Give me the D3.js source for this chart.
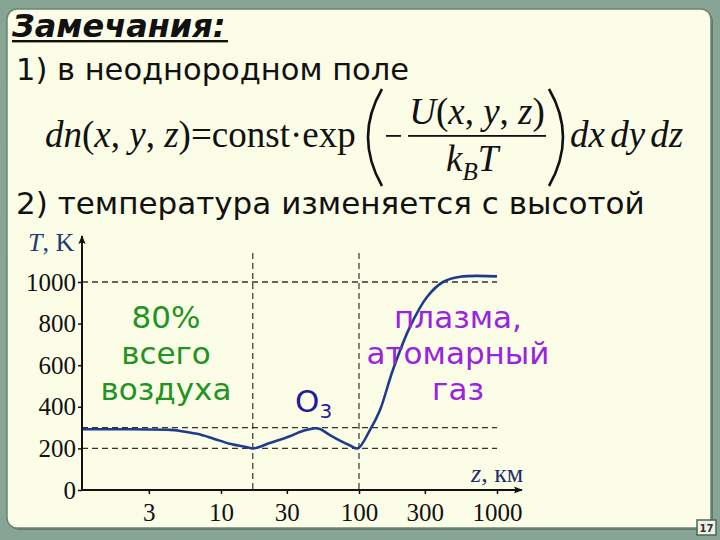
<!DOCTYPE html>
<html>
<head>
<meta charset="utf-8">
<script src="https://cdn.jsdelivr.net/npm/d3@7/dist/d3.min.js"></script>
<style>
  html, body { margin: 0; padding: 0; background: #87a594; }
  svg { display: block; }
</style>
</head>
<body>
<svg id="chart" width="720" height="540"></svg>
<script>
// ---- data ----
const altitudeKm = [1, 1.85, 4.27, 5.05, 6.7, 8.75, 11.6, 15.4, 17.1, 22.6, 31.6, 37.2, 44.5, 48, 52.2, 61.6, 72.8, 86.1, 98, 120, 142, 176, 234, 311, 406, 540, 1000];
const temperatureK = [292, 292, 289, 284, 270, 248, 222, 206, 200, 226, 258, 279, 293, 297, 293, 264, 237, 214, 200, 288, 385, 577, 784, 928, 1000, 1025, 1027];
const xTickValues = [3, 10, 30, 100, 300, 1000];
const yTickValues = [0, 200, 400, 600, 800, 1000];
const refTemps = [1000, 300, 200];
const refAltitudes = [17, 100];
const greenLabel = ["80%", "всего", "воздуха"];
const purpleLabel = ["плазма,", "атомарный", "газ"];

const svg = d3.select("#chart");

// ---- slide background ----
svg.append("rect").attr("x", 0).attr("y", 0).attr("width", 720).attr("height", 540).attr("fill", "#87a594");
svg.append("rect").attr("x", 9).attr("y", 11).attr("width", 704).attr("height", 519).attr("rx", 10)
  .attr("fill", "#5f7a6a");
svg.append("rect").attr("x", 7).attr("y", 9).attr("width", 704).attr("height", 519).attr("rx", 10)
  .attr("fill", "#fcfde6").attr("stroke", "#6b8576").attr("stroke-width", 1.5);
svg.append("rect").attr("x", 697).attr("y", 520).attr("width", 19).attr("height", 15)
  .attr("fill", "#eef2e4").attr("stroke", "#4f6658").attr("stroke-width", 1.5);
svg.append("text").attr("x", 706.5).attr("y", 532).attr("text-anchor", "middle")
  .attr("font-family", "DejaVu Sans").attr("font-size", 10).attr("font-weight", "bold")
  .attr("fill", "#333").text("17");

// ---- heading texts ----
const sans = "DejaVu Sans";
svg.append("text").attr("x", 12).attr("y", 37)
  .attr("font-family", sans).attr("font-size", 32).attr("font-weight", "bold").attr("font-style", "italic")
  .attr("fill", "#111").text("Замечания:");
svg.append("rect").attr("x", 12).attr("y", 40).attr("width", 216).attr("height", 2.4).attr("fill", "#111");

svg.append("text").attr("x", 16).attr("y", 80)
  .attr("font-family", sans).attr("font-size", 30.5).attr("fill", "#111").text("1) в неоднородном поле");
svg.append("text").attr("x", 16).attr("y", 214)
  .attr("font-family", sans).attr("font-size", 31).attr("fill", "#111").text("2) температура изменяется с высотой");

// ---- formula ----
const serif = "Liberation Serif";
const fs = 37;
const fy = 147;
const f1 = svg.append("text").attr("x", 45).attr("y", fy)
  .attr("font-family", serif).attr("font-size", fs).attr("fill", "#111");
[["dn", true], ["(", false], ["x", true], [", ", false], ["y", true], [", ", false], ["z", true], [")", false],
 ["=const·exp", false]].forEach(([t, it]) => f1.append("tspan").attr("font-style", it ? "italic" : "normal").text(t));

// big parentheses
const par = d3.path();
par.moveTo(382, 89); par.quadraticCurveTo(354, 137, 382, 186);
svg.append("path").attr("d", par.toString()).attr("fill", "none").attr("stroke", "#111").attr("stroke-width", 2.6);
const par2 = d3.path();
par2.moveTo(549, 89); par2.quadraticCurveTo(577, 137, 549, 186);
svg.append("path").attr("d", par2.toString()).attr("fill", "none").attr("stroke", "#111").attr("stroke-width", 2.6);

// minus and fraction bar
svg.append("rect").attr("x", 386).attr("y", 135).attr("width", 15).attr("height", 1.8).attr("fill", "#111");
svg.append("rect").attr("x", 408).attr("y", 135).attr("width", 138).attr("height", 1.8).attr("fill", "#111");
const num = svg.append("text").attr("x", 477).attr("y", 124).attr("text-anchor", "middle")
  .attr("font-family", serif).attr("font-size", fs).attr("fill", "#111");
[["U", true], ["(", false], ["x", true], [", ", false], ["y", true], [", ", false], ["z", true], [")", false]]
  .forEach(([t, it]) => num.append("tspan").attr("font-style", it ? "italic" : "normal").text(t));
const den = svg.append("text").attr("x", 446).attr("y", 171)
  .attr("font-family", serif).attr("font-size", fs).attr("fill", "#111").attr("font-style", "italic");
den.append("tspan").text("k");
den.append("tspan").attr("font-size", 25).attr("dy", 9).text("B");
den.append("tspan").attr("dy", -9).text("T");
svg.append("text").attr("x", 570).attr("y", fy)
  .attr("font-family", serif).attr("font-size", fs).attr("font-style", "italic").attr("fill", "#111")
  .attr("word-spacing", -4).text("dx dy dz");

// ---- chart ----
const x = d3.scaleLog().domain([1, 1000]).range([83, 497]);
const y = d3.scaleLinear().domain([0, 1000]).range([490, 282]);
const x0 = 82, y0 = 490;
const dash = "6,4";

const g = svg.append("g");

// reference dashed lines
refTemps.forEach(t => {
  g.append("line").attr("x1", x0).attr("x2", x(1000)).attr("y1", y(t)).attr("y2", y(t))
    .attr("stroke", "#333").attr("stroke-width", 1.3).attr("stroke-dasharray", dash);
});
refAltitudes.forEach(z => {
  g.append("line").attr("x1", x(z)).attr("x2", x(z)).attr("y1", y(1140)).attr("y2", y0)
    .attr("stroke", "#222").attr("stroke-width", 1.1).attr("stroke-dasharray", dash);
});

// axes
const yAxis = d3.axisLeft(y).tickValues(yTickValues).tickSize(4).tickPadding(2).tickFormat(d3.format("d"));
const ya = g.append("g").attr("transform", `translate(${x0},0)`).call(yAxis);
ya.select(".domain").remove();
ya.selectAll("text").attr("font-family", serif).attr("font-size", 25).attr("fill", "#111");
ya.selectAll("line").attr("stroke", "#111").attr("stroke-width", 1.5);

const xAxis = d3.axisBottom(x).tickValues(xTickValues).tickSize(4).tickPadding(9).tickFormat(d3.format("d"));
const xa = g.append("g").attr("transform", `translate(0,${y0})`).call(xAxis);
xa.select(".domain").remove();
xa.selectAll("text").attr("font-family", serif).attr("font-size", 25).attr("fill", "#111");
xa.selectAll("line").attr("stroke", "#111").attr("stroke-width", 1.5);

svg.append("defs").append("marker").attr("id", "arr").attr("viewBox", "0 0 10 10")
  .attr("refX", 9).attr("refY", 5).attr("markerWidth", 9).attr("markerHeight", 9)
  .attr("markerUnits", "userSpaceOnUse").attr("orient", "auto")
  .append("path").attr("d", "M0,1 L10,5 L0,9 L2,5 Z").attr("fill", "#111");
g.append("line").attr("x1", x0).attr("x2", x0).attr("y1", y0 + 1).attr("y2", 236)
  .attr("stroke", "#111").attr("stroke-width", 2).attr("marker-end", "url(#arr)");
g.append("line").attr("x1", x0 - 1).attr("x2", 522).attr("y1", y0).attr("y2", y0)
  .attr("stroke", "#111").attr("stroke-width", 2).attr("marker-end", "url(#arr)");

// axis titles
const tl = svg.append("text").attr("x", 28).attr("y", 251).attr("font-family", serif).attr("font-size", 26).attr("fill", "#1e3c78");
tl.append("tspan").attr("font-style", "italic").text("T");
tl.append("tspan").text(", K");
const zl = svg.append("text").attr("x", 471).attr("y", 482).attr("font-family", serif).attr("font-size", 26).attr("fill", "#1e3070");
zl.append("tspan").attr("font-style", "italic").text("z");
zl.append("tspan").text(", км");

// temperature curve
const line = d3.line().x((d, i) => x(altitudeKm[i])).y(d => y(d)).curve(d3.curveCatmullRom.alpha(0.5));
g.append("path").datum(temperatureK).attr("d", line).attr("fill", "none")
  .attr("stroke", "#1f3c8c").attr("stroke-width", 2.6);

// annotations
greenLabel.forEach((t, i) => {
  svg.append("text").attr("x", 166).attr("y", 328 + i * 36).attr("text-anchor", "middle")
    .attr("font-family", sans).attr("font-size", 31).attr("fill", "#1f9422").text(t);
});
purpleLabel.forEach((t, i) => {
  svg.append("text").attr("x", 458).attr("y", 328 + i * 36).attr("text-anchor", "middle")
    .attr("font-family", sans).attr("font-size", 31).attr("fill", "#9a22e2").text(t);
});
const o3 = svg.append("text").attr("x", 295).attr("y", 412).attr("font-family", sans).attr("font-size", 31).attr("fill", "#1c1ca0");
o3.append("tspan").text("O");
o3.append("tspan").attr("font-size", 20).attr("dy", 6).text("3");
</script>
</body>
</html>
